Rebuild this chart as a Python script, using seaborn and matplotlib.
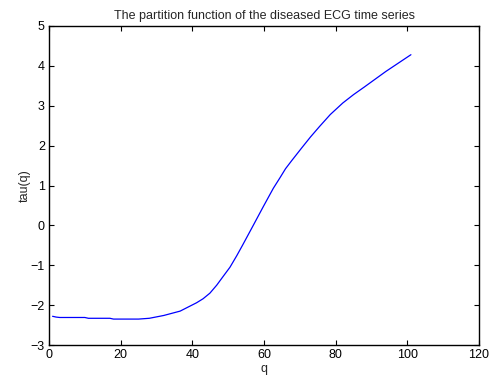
import matplotlib
matplotlib.use("Agg")
import matplotlib.pyplot as plt
import seaborn as sns
import pandas as pd

q_values = [1, 2, 3, 10, 11, 17, 18, 25, 28, 32, 36.6, 41.2, 43, 44.9, 46.8,
            48.6, 50.5, 52.4, 54, 55.2, 57, 59.8, 62.6, 64.5, 66, 67.7, 70.5,
            73, 75.5, 78.5, 82, 85, 88, 94, 101]
tau_values = [-2.28, -2.30, -2.31, -2.31, -2.33, -2.33, -2.35, -2.35, -2.33,
              -2.26, -2.15, -1.94, -1.84, -1.70, -1.50, -1.28, -1.05, -0.76,
              -0.50, -0.30, 0.0, 0.47, 0.93, 1.20, 1.42, 1.62, 1.94, 2.22,
              2.48, 2.78, 3.07, 3.28, 3.47, 3.86, 4.28]
x_ticks = [0, 20, 40, 60, 80, 100, 120]
y_ticks = [-3, -2, -1, 0, 1, 2, 3, 4, 5]
title = "The partition function of the diseased ECG time series"

sns.set_style("white")
plt.rcParams['font.family'] = ['Liberation Sans', 'DejaVu Sans']

df = pd.DataFrame({"q": q_values, "tau": tau_values})

fig = plt.figure(figsize=(4.99, 3.77), dpi=100)
ax = fig.add_axes([49/499, 1 - 345/377, (479 - 49)/499, (345 - 26)/377])
sns.lineplot(data=df, x="q", y="tau", ax=ax, color="#0000ff", linewidth=0.9)

ax.set_xlim(0, 120)
ax.set_ylim(-3, 5)
ax.set_xticks(x_ticks)
ax.set_yticks(y_ticks)
ax.tick_params(direction="in", length=3.5, width=0.8, labelsize=9, pad=3,
               top=True, right=True, bottom=True, left=True, colors="black")
for s in ax.spines.values():
    s.set_color("black")
    s.set_linewidth(1.0)
ax.set_xlabel("q", fontsize=9, labelpad=1)
ax.set_ylabel("tau(q)", fontsize=9, labelpad=0)
ax.set_title(title, fontsize=9, pad=5)

fig.savefig("out.png", dpi=100)
